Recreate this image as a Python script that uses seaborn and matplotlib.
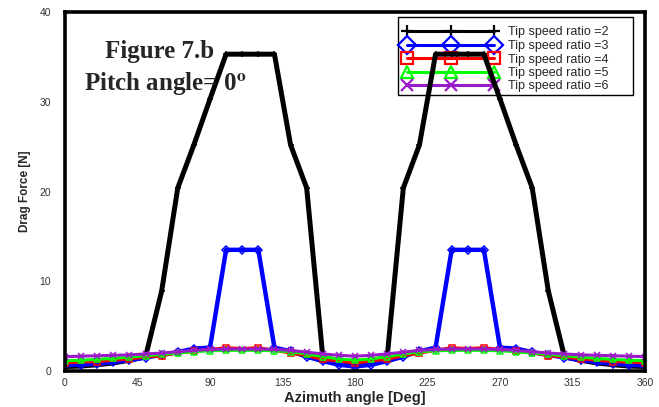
import numpy as np
import pandas as pd
import matplotlib
matplotlib.use("Agg")
import matplotlib.pyplot as plt
from matplotlib.lines import Line2D
from matplotlib.patches import Rectangle
from matplotlib.ticker import MultipleLocator
import seaborn as sns

angles = list(range(0, 361, 10))
tsr2 = [0.5, 0.55, 0.7, 0.9, 1.2, 1.6, 8.9, 20.4, 25.2, 30.3, 35.3, 35.3, 35.3, 35.3, 25.2, 20.4, 1.6, 1.0, 0.6,
        1.0, 1.6, 20.4, 25.2, 35.3, 35.3, 35.3, 35.3, 30.3, 25.2, 20.4, 8.9, 1.6, 1.2, 0.9, 0.7, 0.55, 0.5]
tsr3 = [0.65, 0.7, 0.8, 1.0, 1.2, 1.5, 1.8, 2.1, 2.5, 2.6, 13.5, 13.5, 13.5, 2.6, 2.2, 1.6, 1.1, 0.7, 0.5,
        0.7, 1.1, 1.6, 2.2, 2.6, 13.5, 13.5, 13.5, 2.6, 2.5, 2.1, 1.8, 1.5, 1.2, 1.0, 0.8, 0.7, 0.6]
tsr4 = [0.9, 1.0, 1.05, 1.2, 1.35, 1.55, 1.7, 2.0, 2.2, 2.4, 2.6, 2.5, 2.6, 2.3, 2.0, 1.7, 1.3, 1.1, 0.9,
        1.1, 1.3, 1.7, 2.0, 2.3, 2.6, 2.5, 2.6, 2.4, 2.2, 2.0, 1.7, 1.55, 1.35, 1.2, 1.05, 1.0, 0.9]
tsr5 = [1.15, 1.2, 1.3, 1.4, 1.55, 1.7, 1.85, 2.0, 2.15, 2.25, 2.3, 2.3, 2.3, 2.25, 2.15, 1.9, 1.6, 1.35, 1.2,
        1.35, 1.6, 1.9, 2.15, 2.25, 2.3, 2.3, 2.3, 2.25, 2.15, 2.0, 1.85, 1.7, 1.55, 1.4, 1.3, 1.2, 1.15]
tsr6 = [1.6, 1.65, 1.7, 1.75, 1.8, 1.9, 2.0, 2.15, 2.3, 2.4, 2.45, 2.45, 2.45, 2.4, 2.3, 2.1, 1.9, 1.75, 1.65,
        1.75, 1.9, 2.1, 2.3, 2.4, 2.45, 2.45, 2.45, 2.4, 2.3, 2.15, 2.0, 1.9, 1.8, 1.75, 1.7, 1.65, 1.6]
labels = ["Tip speed ratio =2", "Tip speed ratio =3", "Tip speed ratio =4",
          "Tip speed ratio =5", "Tip speed ratio =6"]
series = [tsr2, tsr3, tsr4, tsr5, tsr6]
x_ticks = [0, 45, 90, 135, 180, 225, 270, 315, 360]
y_ticks = [0, 10, 20, 30, 40]

colors = ["#000000", "#0000ff", "#ff0000", "#00ff00", "#9a1cc8"]
markers = ["+", "D", "s", "^", "x"]
lws = [3.6, 3.2, 2.2, 2.2, 2.2]
mevery = [1, 1, 2, 1, 1]

sns.set_style("white")
plt.rcParams["font.family"] = ["Liberation Sans", "DejaVu Sans"]
plt.rcParams["mathtext.fontset"] = "stix"

W, H = 659, 407
fig = plt.figure(figsize=(6.59, 4.07), dpi=100)
ax = fig.add_axes([65/W, 1-371/H, 580/W, 359/H])

for s, lab, c, m, lw, me in zip(series, labels, colors, markers, lws, mevery):
    df = pd.DataFrame({"angle": angles, "force": s})
    sns.lineplot(data=df, x="angle", y="force", ax=ax, color=c, lw=lw, marker=m,
                 markersize=4.5, markevery=me, markerfacecolor="none", markeredgecolor=c,
                 markeredgewidth=1.1, legend=False, zorder=3)

ax.set_xlim(0, 360)
ax.set_ylim(0, 40)
ax.set_xticks(x_ticks)
ax.set_yticks(y_ticks)
ax.xaxis.set_minor_locator(MultipleLocator(22.5))
ax.yaxis.set_minor_locator(MultipleLocator(5))
ax.tick_params(axis="both", which="major", direction="in", length=6, width=1, labelsize=7.5,
               colors="#222222", labelcolor="#333333")
ax.tick_params(axis="y", which="major", pad=10)
ax.tick_params(axis="x", which="major", pad=5)
ax.tick_params(axis="both", which="minor", direction="in", length=3, width=1, colors="#222222")
for sp in ax.spines.values():
    sp.set_linewidth(2.6)
    sp.set_color("black")
    sp.set_visible(True)
    sp.set_zorder(5)

ax.set_xlabel("Azimuth angle [Deg]", fontsize=10.5, fontweight="bold", labelpad=2)
ax.set_ylabel("Drag Force [N]", fontsize=8.5, fontweight="bold", labelpad=6)

# legend box
def ax_xy(px, py):
    return (px - 65) / 580, (371 - py) / 359

x0, y1 = ax_xy(398, 95)
x1, y0 = ax_xy(633, 17)
ax.add_patch(Rectangle((x0, y1), x1 - x0, y0 - y1, transform=ax.transAxes,
                       facecolor="white", edgecolor="black", lw=1.0, zorder=1))

handles = [Line2D([], [], color=c, lw=2.2, marker=m, markersize=9, markerfacecolor="none",
                  markeredgecolor=c, markeredgewidth=1.6)
           for c, m in zip(colors, markers)]
lx, ly = ax_xy(398, 21.5)
leg = ax.legend(handles, labels, loc="upper left", bbox_to_anchor=(lx, ly), borderaxespad=0,
                numpoints=3, handlelength=7.6, handletextpad=0.8, labelspacing=0.12,
                fontsize=9, frameon=False)
leg.set_zorder(2)

fig.text(105/W, 1-58/H, "Figure 7.b", fontsize=18, fontweight="bold",
         family="Liberation Serif", ha="left", va="baseline")
fig.text(84/W, 1-90/H, r"Pitch angle= 0$^{\mathbf{o}}$", fontsize=18, fontweight="bold",
         family="Liberation Serif", ha="left", va="baseline")

fig.savefig("out.png", dpi=100, facecolor="white")
